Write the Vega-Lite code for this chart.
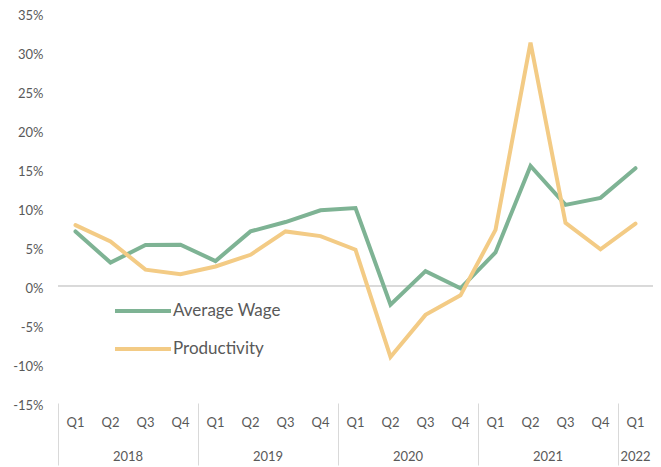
{
  "$schema": "https://vega.github.io/schema/vega-lite/v6.json",
  "width": 595,
  "height": 390,
  "autosize": {"type": "none"},
  "padding": {"left": 58, "top": 13, "right": 8, "bottom": 64},
  "background": "white",
  "config": {
    "view": {"stroke": null},
    "font": "Lato",
    "axis": {"labelFont": "Lato", "labelFontSize": 13, "labelColor": "#595959"},
    "axisY": {"labelOverlap": false, "labelBound": false}
  },
  "data": {
    "values": [
      {"period": "2018 Q1", "series": "Average Wage", "value": 7.0},
      {"period": "2018 Q2", "series": "Average Wage", "value": 3.0},
      {"period": "2018 Q3", "series": "Average Wage", "value": 5.25},
      {"period": "2018 Q4", "series": "Average Wage", "value": 5.3},
      {"period": "2019 Q1", "series": "Average Wage", "value": 3.2},
      {"period": "2019 Q2", "series": "Average Wage", "value": 7.0},
      {"period": "2019 Q3", "series": "Average Wage", "value": 8.2},
      {"period": "2019 Q4", "series": "Average Wage", "value": 9.7},
      {"period": "2020 Q1", "series": "Average Wage", "value": 10.0},
      {"period": "2020 Q2", "series": "Average Wage", "value": -2.4},
      {"period": "2020 Q3", "series": "Average Wage", "value": 1.9},
      {"period": "2020 Q4", "series": "Average Wage", "value": -0.3},
      {"period": "2021 Q1", "series": "Average Wage", "value": 4.3},
      {"period": "2021 Q2", "series": "Average Wage", "value": 15.4},
      {"period": "2021 Q3", "series": "Average Wage", "value": 10.4},
      {"period": "2021 Q4", "series": "Average Wage", "value": 11.3},
      {"period": "2022 Q1", "series": "Average Wage", "value": 15.1},
      {"period": "2018 Q1", "series": "Productivity", "value": 7.8},
      {"period": "2018 Q2", "series": "Productivity", "value": 5.7},
      {"period": "2018 Q3", "series": "Productivity", "value": 2.1},
      {"period": "2018 Q4", "series": "Productivity", "value": 1.5},
      {"period": "2019 Q1", "series": "Productivity", "value": 2.5},
      {"period": "2019 Q2", "series": "Productivity", "value": 4.0},
      {"period": "2019 Q3", "series": "Productivity", "value": 7.0},
      {"period": "2019 Q4", "series": "Productivity", "value": 6.4},
      {"period": "2020 Q1", "series": "Productivity", "value": 4.65},
      {"period": "2020 Q2", "series": "Productivity", "value": -9.1},
      {"period": "2020 Q3", "series": "Productivity", "value": -3.7},
      {"period": "2020 Q4", "series": "Productivity", "value": -1.2},
      {"period": "2021 Q1", "series": "Productivity", "value": 7.2},
      {"period": "2021 Q2", "series": "Productivity", "value": 31.2},
      {"period": "2021 Q3", "series": "Productivity", "value": 8.1},
      {"period": "2021 Q4", "series": "Productivity", "value": 4.7},
      {"period": "2022 Q1", "series": "Productivity", "value": 8.0}
    ]
  },
  "resolve": {"axis": {"x": "independent"}},
  "layer": [
    {
      "mark": {"type": "rule", "color": "#d9d9d9", "strokeWidth": 1},
      "encoding": {
        "y": {
          "datum": 0, "type": "quantitative",
          "axis": {
            "title": null, "values": [-15, -10, -5, 0, 5, 10, 15, 20, 25, 30, 35],
            "domain": false, "ticks": false, "grid": false, "labelPadding": 15,
            "labelOverlap": false, "labelOffset": 2,
            "labelExpr": "datum.value + '%'"
          }
        }
      }
    },
    {
      "mark": {"type": "line", "strokeWidth": 4, "strokeCap": "round", "strokeJoin": "miter"},
      "encoding": {
        "x": {
          "field": "period", "type": "ordinal",
          "scale": {"type": "band", "paddingInner": 0, "paddingOuter": 0},
          "axis": {
            "orient": "bottom", "title": null, "domain": false, "ticks": false,
            "labelAngle": 0, "labelPadding": 13,
            "labelExpr": "split(datum.value, ' ')[1]"
          }
        },
        "y": {
          "field": "value", "type": "quantitative",
          "scale": {"domain": [-15, 35], "nice": false, "zero": false},
          "axis": {
            "title": null, "values": [-15, -10, -5, 0, 5, 10, 15, 20, 25, 30, 35],
            "domain": false, "ticks": false, "grid": false, "labelPadding": 15,
            "labelOverlap": false, "labelOffset": 2,
            "labelExpr": "datum.value + '%'"
          }
        },
        "color": {
          "field": "series", "type": "nominal",
          "scale": {"domain": ["Average Wage", "Productivity"], "range": ["#7EB394", "#F3CB85"]},
          "legend": {
            "title": null, "orient": "none", "legendX": 55, "legendY": 268,
            "symbolType": "stroke", "symbolSize": 3136, "symbolStrokeWidth": 4,
            "labelFont": "Lato", "labelFontSize": 17, "labelColor": "#595959",
            "labelOffset": 0, "rowPadding": -18, "padding": 0
          }
        }
      }
    },
    {
      "mark": {"type": "point", "opacity": 0},
      "encoding": {
        "x": {
          "field": "period", "type": "ordinal",
          "axis": {
            "orient": "bottom", "title": null, "domain": false,
            "values": ["2018 Q1", "2019 Q1", "2020 Q1", "2021 Q1", "2022 Q1"],
            "bandPosition": 0, "tickSize": 62, "tickColor": "#d9d9d9", "tickWidth": 1,
            "labelAngle": 0, "labelPadding": -15, "labelAlign": "center",
            "labelOffset": {"condition": {"test": "datum.value == '2022 Q1'", "value": 0}, "value": 52.5},
            "labelExpr": "split(datum.value, ' ')[0]"
          }
        }
      }
    }
  ]
}
